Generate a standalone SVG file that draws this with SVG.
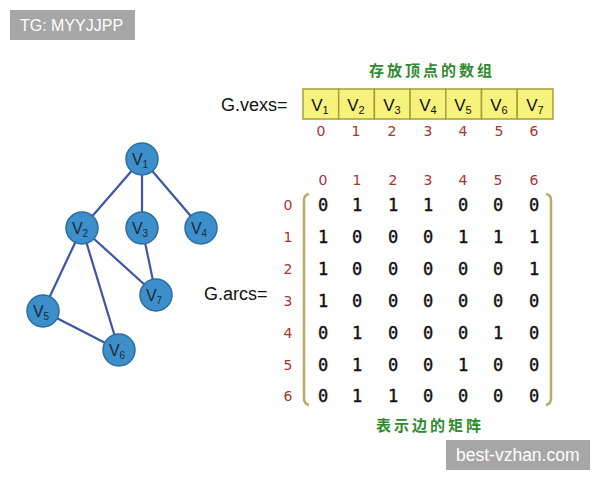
<svg xmlns="http://www.w3.org/2000/svg" width="600" height="480" viewBox="0 0 600 480">
<style>
.wm{fill:#a6a6a6}
.wmt{fill:#fff;font-family:"Liberation Sans",Arial,sans-serif;font-size:16px}
.lbl{font-family:"Liberation Sans",Arial,sans-serif;font-size:18px;fill:#111}
.cn{font-family:"Noto Sans CJK SC",sans-serif;font-size:15px;fill:#2e8b2e;letter-spacing:3px;text-anchor:middle;font-weight:bold}
.cell{fill:#f7f27c;stroke:#a89d3a;stroke-width:1.5}
.vt{font-family:"Liberation Sans",Arial,sans-serif;font-size:17px;fill:#111;text-anchor:middle}
.idx{font-family:"DejaVu Sans",sans-serif;font-size:14px;fill:#a8332f;text-anchor:middle}
.m{font-family:"DejaVu Sans Mono",monospace;font-size:17px;fill:#111;stroke:#111;stroke-width:0.4;text-anchor:middle}
.node{fill:#3d8fcb;stroke:#2b6e9e;stroke-width:1.5}
.nt{font-family:"Liberation Sans",Arial,sans-serif;font-size:16px;fill:#1a2a3a;text-anchor:middle}
.edge{stroke:#3d55a5;stroke-width:2.2;fill:none}
.br{stroke:#b8ab63;stroke-width:2.5;fill:none}
</style>
<rect class="wm" x="10" y="10" width="125" height="30"/>
<text class="wmt" x="20" y="31">TG: MYYJJPP</text>
<rect class="wm" x="446" y="440" width="144" height="30"/>
<text class="wmt" x="456" y="461" style="font-size:17.5px">best-vzhan.com</text>

<text class="cn" x="432" y="76">存放顶点的数组</text>
<text class="lbl" x="221" y="111">G.vexs=</text>
<g id="vexs">
<rect class="cell" x="303" y="89" width="35.7" height="30"/>
<rect class="cell" x="338.7" y="89" width="35.7" height="30"/>
<rect class="cell" x="374.4" y="89" width="35.7" height="30"/>
<rect class="cell" x="410.1" y="89" width="35.7" height="30"/>
<rect class="cell" x="445.8" y="89" width="35.7" height="30"/>
<rect class="cell" x="481.5" y="89" width="35.7" height="30"/>
<rect class="cell" x="517.2" y="89" width="35.7" height="30"/>
<text class="vt" x="320" y="111">V<tspan font-size="11" dy="3">1</tspan></text>
<text class="vt" x="356" y="111">V<tspan font-size="11" dy="3">2</tspan></text>
<text class="vt" x="392" y="111">V<tspan font-size="11" dy="3">3</tspan></text>
<text class="vt" x="428" y="111">V<tspan font-size="11" dy="3">4</tspan></text>
<text class="vt" x="463" y="111">V<tspan font-size="11" dy="3">5</tspan></text>
<text class="vt" x="499" y="111">V<tspan font-size="11" dy="3">6</tspan></text>
<text class="vt" x="535" y="111">V<tspan font-size="11" dy="3">7</tspan></text>
</g>
<g id="vexs-idx">
<text class="idx" x="321" y="136">0</text><text class="idx" x="356" y="136">1</text><text class="idx" x="392" y="136">2</text><text class="idx" x="428" y="136">3</text><text class="idx" x="463" y="136">4</text><text class="idx" x="499" y="136">5</text><text class="idx" x="534" y="136">6</text>
</g>

<g id="connectors">
<line class="edge" x1="142" y1="159" x2="82" y2="228"/>
<line class="edge" x1="142" y1="159" x2="142" y2="228"/>
<line class="edge" x1="142" y1="159" x2="201" y2="228"/>
<line class="edge" x1="82" y1="228" x2="43" y2="311"/>
<line class="edge" x1="82" y1="228" x2="119" y2="350"/>
<line class="edge" x1="82" y1="228" x2="156" y2="295"/>
<line class="edge" x1="142" y1="228" x2="156" y2="295"/>
<line class="edge" x1="43" y1="311" x2="119" y2="350"/>
</g>
<g id="v1"><circle class="node" cx="142" cy="159" r="16"/><text class="nt" x="140" y="165">V<tspan font-size="10" dy="3">1</tspan></text></g>
<g id="v2"><circle class="node" cx="82" cy="228" r="16"/><text class="nt" x="80" y="234">V<tspan font-size="10" dy="3">2</tspan></text></g>
<g id="v3"><circle class="node" cx="142" cy="228" r="16"/><text class="nt" x="140" y="234">V<tspan font-size="10" dy="3">3</tspan></text></g>
<g id="v4"><circle class="node" cx="201" cy="228" r="16"/><text class="nt" x="199" y="234">V<tspan font-size="10" dy="3">4</tspan></text></g>
<g id="v5"><circle class="node" cx="43" cy="311" r="16"/><text class="nt" x="41" y="317">V<tspan font-size="10" dy="3">5</tspan></text></g>
<g id="v6"><circle class="node" cx="119" cy="350" r="16"/><text class="nt" x="117" y="356">V<tspan font-size="10" dy="3">6</tspan></text></g>
<g id="v7"><circle class="node" cx="156" cy="295" r="16"/><text class="nt" x="154" y="301">V<tspan font-size="10" dy="3">7</tspan></text></g>

<text class="lbl" x="204" y="300">G.arcs=</text>
<g id="arcs">
<path class="br" d="M309,194 Q304,195 304,200 L304,398 Q304,404 309,405"/>
<path class="br" d="M546,194 Q551,195 551,200 L551,398 Q551,404 546,405"/>
<g class="col-idx">
<text class="idx" x="323" y="185">0</text><text class="idx" x="357" y="185">1</text><text class="idx" x="393" y="185">2</text><text class="idx" x="428" y="185">3</text><text class="idx" x="463" y="185">4</text><text class="idx" x="498" y="185">5</text><text class="idx" x="534" y="185">6</text>
</g>
<g class="row-idx">
<text class="idx" x="288" y="210">0</text><text class="idx" x="288" y="242">1</text><text class="idx" x="288" y="274">2</text><text class="idx" x="288" y="306">3</text><text class="idx" x="288" y="338">4</text><text class="idx" x="288" y="370">5</text><text class="idx" x="288" y="401">6</text>
</g>
<text class="m" y="211"><tspan x="323">0</tspan><tspan x="357">1</tspan><tspan x="393">1</tspan><tspan x="428">1</tspan><tspan x="463">0</tspan><tspan x="498">0</tspan><tspan x="534">0</tspan></text>
<text class="m" y="243"><tspan x="323">1</tspan><tspan x="357">0</tspan><tspan x="393">0</tspan><tspan x="428">0</tspan><tspan x="463">1</tspan><tspan x="498">1</tspan><tspan x="534">1</tspan></text>
<text class="m" y="275"><tspan x="323">1</tspan><tspan x="357">0</tspan><tspan x="393">0</tspan><tspan x="428">0</tspan><tspan x="463">0</tspan><tspan x="498">0</tspan><tspan x="534">1</tspan></text>
<text class="m" y="307"><tspan x="323">1</tspan><tspan x="357">0</tspan><tspan x="393">0</tspan><tspan x="428">0</tspan><tspan x="463">0</tspan><tspan x="498">0</tspan><tspan x="534">0</tspan></text>
<text class="m" y="339"><tspan x="323">0</tspan><tspan x="357">1</tspan><tspan x="393">0</tspan><tspan x="428">0</tspan><tspan x="463">0</tspan><tspan x="498">1</tspan><tspan x="534">0</tspan></text>
<text class="m" y="371"><tspan x="323">0</tspan><tspan x="357">1</tspan><tspan x="393">0</tspan><tspan x="428">0</tspan><tspan x="463">1</tspan><tspan x="498">0</tspan><tspan x="534">0</tspan></text>
<text class="m" y="402"><tspan x="323">0</tspan><tspan x="357">1</tspan><tspan x="393">1</tspan><tspan x="428">0</tspan><tspan x="463">0</tspan><tspan x="498">0</tspan><tspan x="534">0</tspan></text>
</g>
<text class="cn" x="430" y="431">表示边的矩阵</text>
</svg>
